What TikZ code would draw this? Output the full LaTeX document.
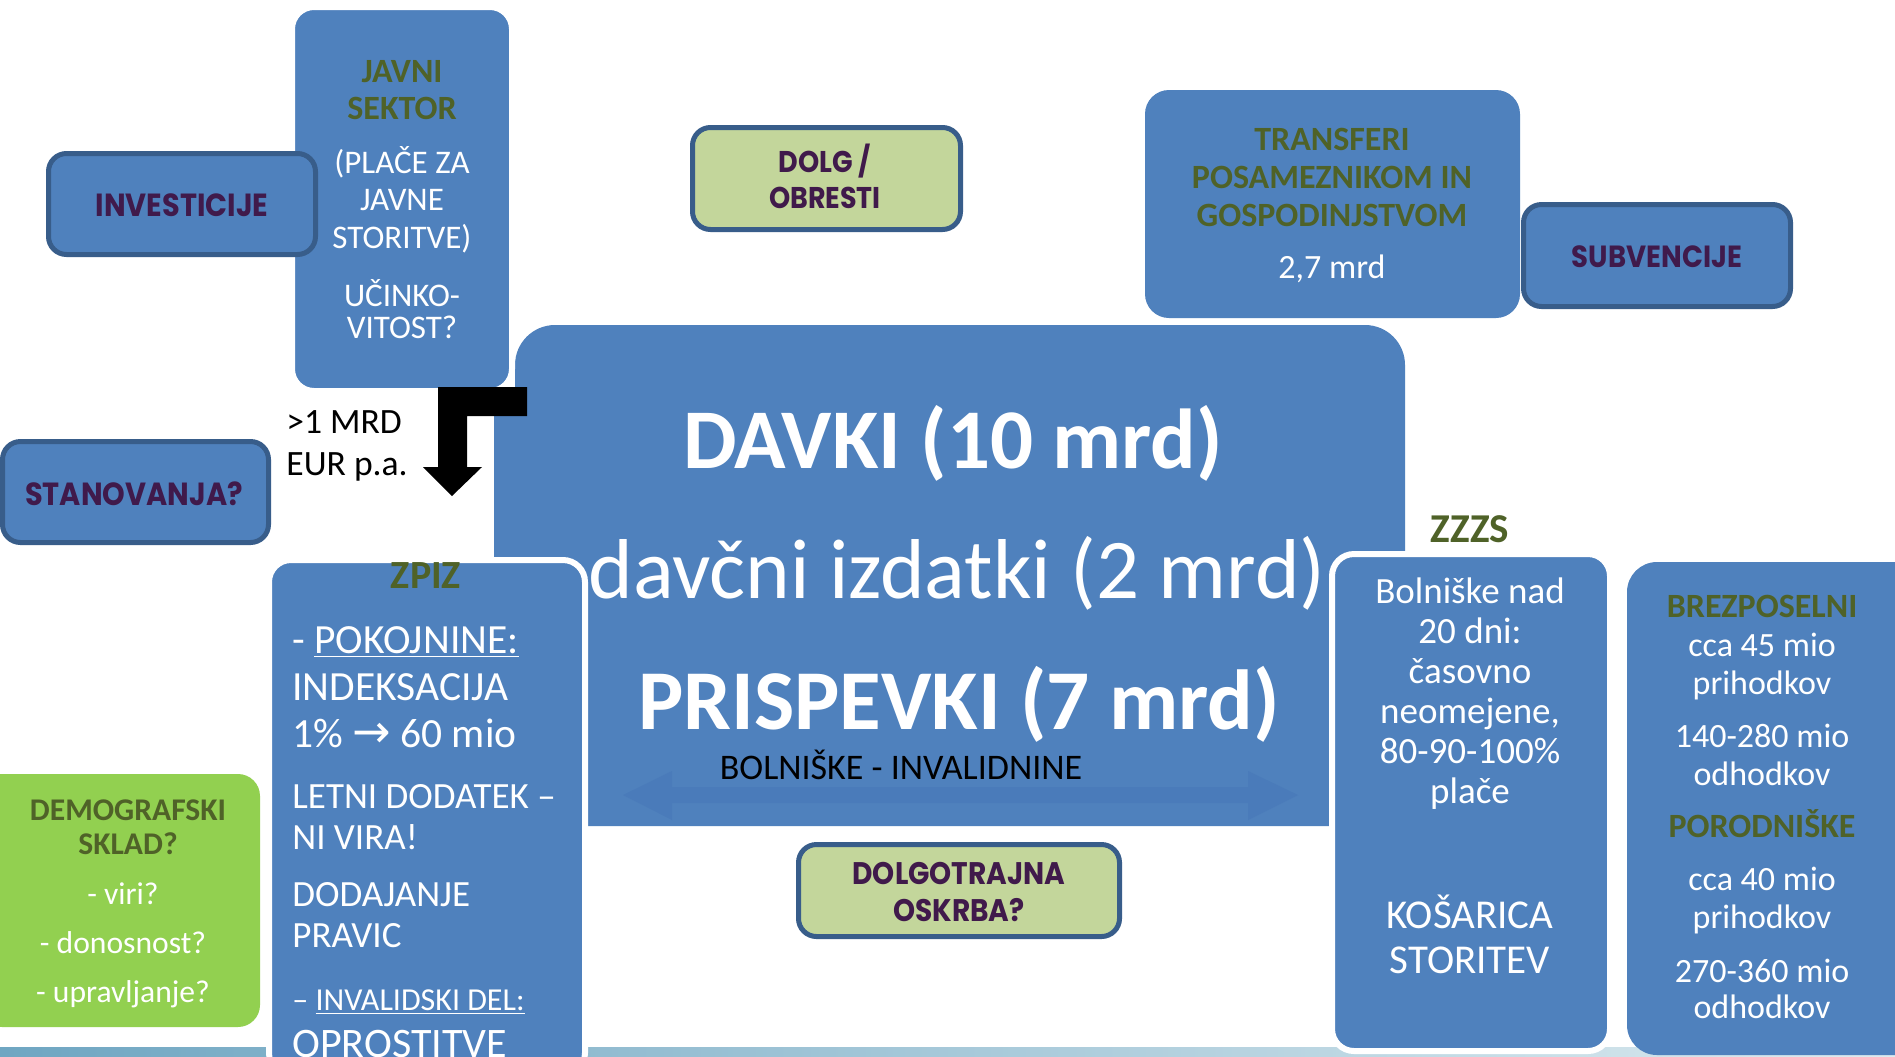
\documentclass[tikz,border=0pt]{standalone}
\usepackage{fontspec}
\setmainfont{Carlito}
\newfontfamily\gothic[FakeStretch=0.9]{Poppins}
\newfontfamily\symb{DejaVu Sans}
\newcommand{\sz}[2]{\fontsize{#1}{#2}\selectfont}

\definecolor{boxblue}{HTML}{4F81BD}
\definecolor{edgeblue}{HTML}{385D8A}
\definecolor{olive}{HTML}{4F6228}
\definecolor{plum}{HTML}{401A4B}
\definecolor{sage}{HTML}{C3D69B}
\definecolor{lime}{HTML}{92D050}
\definecolor{faintblue}{HTML}{4A7BBA}
\definecolor{stripleft}{HTML}{6FA6C2}
\definecolor{stripright}{HTML}{DDEBF0}

\tikzset{
  panel/.style={fill=boxblue, rounded corners=11pt},
  rimmed/.style={panel, draw=white, line width=3pt},
  framed/.style={draw=edgeblue, line width=2.5pt, rounded corners=9pt},
  head/.style={text=olive, align=center, anchor=base, inner sep=0pt},
  body/.style={text=white, align=center, anchor=base, inner sep=0pt},
  tag/.style={text=plum, align=center, anchor=base, inner sep=0pt},
}

\begin{document}
\begin{tikzpicture}[x=0.5pt,y=-0.5pt]
  \useasboundingbox (0,0) rectangle (1895,1056);
  \clip (0,0) rectangle (1895,1056);
  \fill[white] (0,0) rectangle (1895,1056);
  % bottom strip of the slide
  \shade[left color=stripleft, right color=stripright] (0,1047) rectangle (1895,1056);

  % big central box
  \fill[boxblue, rounded corners=20pt] (515,325) rectangle (1405,826);
  \fill[boxblue] (494,388) rectangle (540,826);
  \fill[faintblue] (623,795) -- (672,771) -- (672,787) -- (1248,787) -- (1248,771) -- (1298,795)
    -- (1248,820) -- (1248,803) -- (672,803) -- (672,820) -- cycle;

  % boxes round it
  \path[rimmed] (292,7) rectangle (512,391);
  \path[framed, fill=boxblue] (48.5,153.5) rectangle (315.5,254.5);
  \path[framed, fill=boxblue] (2.5,441.5) rectangle (268.5,542.5);
  \fill[lime, rounded corners=11pt] (-20,774) rectangle (260,1027);
  \path[rimmed] (269,560) rectangle (585,1075);
  \path[rimmed] (1332,554) rectangle (1610,1051);
  \fill[boxblue, rounded corners=15pt] (1627,562) rectangle (1930,1055);
  \fill[boxblue, rounded corners=12pt] (1145,90) rectangle (1520,318);
  \path[framed, fill=boxblue] (1523.5,204.5) rectangle (1790.5,306.5);
  \path[framed, fill=sage] (692.5,127.5) rectangle (960.5,229.5);
  \path[framed, fill=sage] (798.5,844.5) rectangle (1119.5,936.5);

  % bent arrow
  \fill[black] (527,387) -- (438,387) -- (438,467) -- (423,467) -- (452,496) -- (482,467)
    -- (467,467) -- (467,416) -- (527,416) -- cycle;

  % texts (multi-line nodes sit on the baseline of their last line)
  \node[head, font=\bfseries\sz{17}{18.5}] (javni) at (402,119) {JAVNI\\SEKTOR};
  \node[body, font=\sz{16.5}{18.75}] (place) at (402,248) {(PLAČE ZA\\JAVNE\\STORITVE)};
  \node[body, font=\sz{16.5}{16}] (ucinek) at (402,338) {UČINKO-\\VITOST?};
  \node[tag, font=\gothic\bfseries\sz{16}{18}] (invest) at (182,216) {INVESTICIJE};
  \node[tag, font=\gothic\bfseries\sz{16}{18}] (stan) at (134,505) {STANOVANJA?};
  \node[tag, font=\gothic\bfseries\sz{15}{18}] (dolg) at (825,208) {DOLG /\\OBRESTI};
  \node[tag, font=\gothic\bfseries\sz{15.3}{18}] (subv) at (1657,267) {SUBVENCIJE};
  \node[tag, font=\gothic\bfseries\sz{15.6}{18.5}] (oskrba) at (959,921) {DOLGOTRAJNA\\OSKRBA?};
  \node[anchor=base west, align=left, inner sep=0pt, font=\sz{17.8}{21}] (mrd) at (286,475) {>1 MRD\\EUR p.a.};

  \node[head, font=\bfseries\sz{17}{19}] (transf) at (1332,226) {TRANSFERI\\POSAMEZNIKOM IN\\GOSPODINJSTVOM};
  \node[body, font=\sz{17}{20}] (znesek) at (1332,278) {2,7 mrd};

  \node[body, font=\bfseries\sz{42.5}{48}] (davki) at (953,468) {DAVKI (10 mrd)};
  \node[body, font=\sz{42.5}{48}] (izdatki) at (957,598) {davčni izdatki (2 mrd)};
  \node[body, font=\bfseries\sz{42.6}{48}] (prisp) at (959,729) {PRISPEVKI (7 mrd)};
  \node[anchor=base, inner sep=0pt, font=\sz{18}{20}] (bolinv) at (901,779) {BOLNIŠKE - INVALIDNINE};

  \node[head, font=\bfseries\sz{20}{20}] (zpiz) at (426,588) {ZPIZ};
  \node[body, align=left, anchor=base west, font=\sz{20.75}{23.5}] (pokoj) at (292,747)
    {- \underline{POKOJNINE:}\\INDEKSACIJA\\1\% {\symb\sz{23}{23}→} 60 mio};
  \node[body, align=left, anchor=base west, font=\sz{18.5}{20.5}] (letni) at (292,849) {LETNI DODATEK –\\NI VIRA!};
  \node[body, align=left, anchor=base west, font=\sz{18.5}{20.5}] (dodaj) at (292,947) {DODAJANJE\\PRAVIC};
  \node[body, align=left, anchor=base west, font=\sz{16}{18}] (inval) at (292,1010) {– \underline{INVALIDSKI DEL:}};
  \node[body, align=left, anchor=base west, font=\sz{21}{23}] (oprost) at (292,1057) {OPROSTITVE};

  \node[head, font=\bfseries\sz{15.8}{17}] (demo) at (128,854) {DEMOGRAFSKI\\SKLAD?};
  \node[body, font=\sz{15.8}{24.5}] (viri) at (123,1002) {- viri?\\- donosnost?\\- upravljanje?};

  \node[head, font=\bfseries\sz{20.5}{20}] (zzzs) at (1470,542) {ZZZS};
  \node[body, font=\sz{18.5}{20}] (bolniske) at (1470,803) {Bolniške nad\\20 dni:\\časovno\\neomejene,\\80-90-100\%\\plače};
  \node[body, font=\sz{20.5}{22.5}] (kosarica) at (1470,973) {KOŠARICA\\STORITEV};

  \node[head, font=\bfseries\sz{17}{19}] (brezp) at (1762,617) {BREZPOSELNI};
  \node[body, font=\sz{17}{19}] (brezpin) at (1762,694) {cca 45 mio\\prihodkov};
  \node[body, font=\sz{17}{19}] (brezpout) at (1762,785) {140-280 mio\\odhodkov};
  \node[head, font=\bfseries\sz{17}{19}] (porod) at (1762,837) {PORODNIŠKE};
  \node[body, font=\sz{17}{19}] (porodin) at (1762,928) {cca 40 mio\\prihodkov};
  \node[body, font=\sz{17}{18}] (porodout) at (1762,1018) {270-360 mio\\odhodkov};
\end{tikzpicture}
\end{document}
